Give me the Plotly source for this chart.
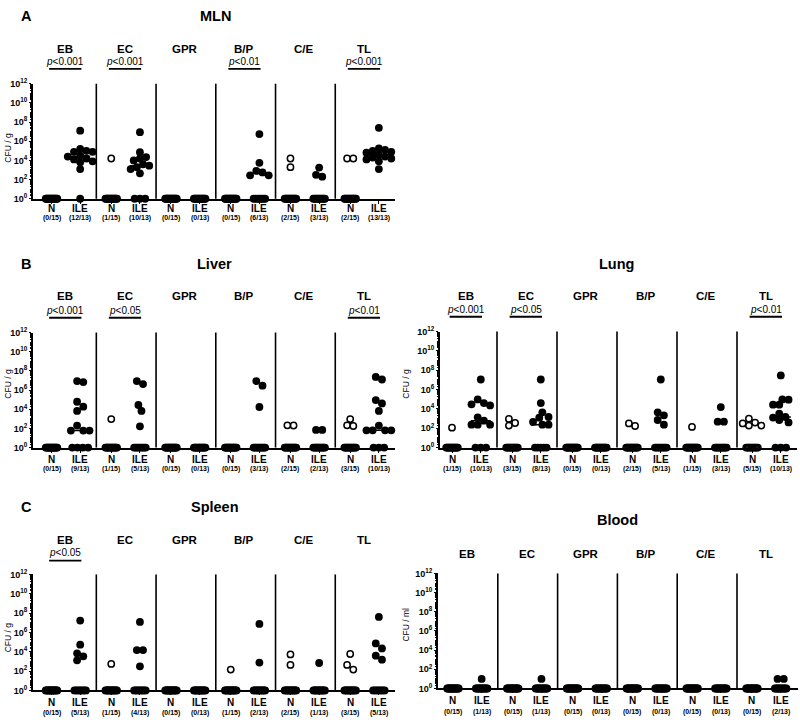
import numpy as np
import plotly.graph_objects as go

W, H = 800, 723
FONT = "Liberation Sans, Arial, sans-serif"

GROUPS = ["EB", "EC", "GPR", "B/P", "C/E", "TL"]
N_TOTAL = 15
ILE_TOTAL = 13

# log10(CFU) of the culture-positive animals per group (remaining animals are 0 -> drawn at 10^0)
MLN_N_LOG = [[], [4.2], [], [], [4.2, 3.3], [4.2, 4.2]]
MLN_ILE_LOG = [
    [7.1, 5.2, 5.0, 4.9, 4.9, 4.5, 4.4, 4.2, 4.1, 3.9, 3.8, 3.1],
    [6.95, 4.85, 4.35, 4.2, 4.0, 3.6, 3.45, 3.3, 3.1, 2.65],
    [],
    [6.75, 3.75, 2.9, 2.75, 2.45, 2.45],
    [3.25, 2.5, 2.3],
    [7.4, 5.25, 5.1, 5.0, 4.9, 4.8, 4.6, 4.4, 4.3, 4.2, 4.1, 3.9, 3.1],
]
LIVER_N_LOG = [[], [2.97], [], [], [2.32, 2.3], [2.97, 2.32, 2.25]]
LIVER_ILE_LOG = [
    [6.93, 6.83, 4.78, 4.27, 3.82, 2.29, 1.77, 1.77, 1.77],
    [6.93, 6.62, 4.44, 3.82, 2.22],
    [],
    [6.93, 6.45, 4.23],
    [1.84, 1.84],
    [7.37, 7.1, 4.95, 4.6, 3.82, 2.29, 1.8, 1.8, 1.8, 1.8],
]
LUNG_N_LOG = [[2.06], [2.96, 2.54, 2.27], [], [2.5, 2.23], [2.13], [2.99, 2.58, 2.5, 2.27, 2.27]]
LUNG_ILE_LOG = [
    [7.04, 4.98, 4.6, 4.47, 4.36, 3.13, 2.78, 2.37, 2.37, 2.37],
    [7.04, 4.6, 3.64, 3.16, 3.09, 2.65, 2.37, 2.37],
    [],
    [7.04, 3.64, 3.33, 2.85, 2.37],
    [4.19, 2.68, 2.68],
    [7.46, 4.98, 4.95, 4.43, 4.43, 3.5, 3.16, 3.1, 2.85, 2.6],
]
SPLEEN_N_LOG = [[], [2.74], [], [2.16], [3.73, 2.64], [3.77, 2.64, 2.16]]
SPLEEN_ILE_LOG = [
    [7.23, 4.73, 3.84, 3.53, 3.12],
    [7.09, 4.18, 4.18, 2.5],
    [],
    [6.88, 2.88],
    [2.84],
    [7.6, 4.86, 4.35, 3.6, 3.18],
]
BLOOD_N_LOG = [[], [], [], [], [], []]
BLOOD_ILE_LOG = [[1.0], [1.0], [], [], [], [1.0, 1.0]]

MLN_P = ["0.001", "0.001", None, "0.01", None, "0.001"]
LIVER_P = ["0.001", "0.05", None, None, None, "0.01"]
LUNG_P = ["0.001", "0.05", None, None, None, "0.01"]
SPLEEN_P = ["0.05", None, None, None, None, None]
BLOOD_P = [None] * 6

Y_TICK_EXP = [0, 2, 4, 6, 8, 10, 12]

PANELS = [
    dict(title="MLN", letter="A", n=MLN_N_LOG, ile=MLN_ILE_LOG, p=MLN_P, unit="CFU / g",
         x0=33, x1=395, ytop=78, ybot=195, xr=[-0.06, 6.0], title_xy=(215, 9), letter_xy=(26, 9),
         grp_y=43, p_y=55, bar_y=63, lab_y=205, cnt_y=215, ytitle_xy=(8, 143)),
    dict(title="Liver", letter="B", n=LIVER_N_LOG, ile=LIVER_ILE_LOG, p=LIVER_P, unit="CFU / g",
         x0=33, x1=395, ytop=331, ybot=448, xr=[-0.06, 6.0], title_xy=(214, 261), letter_xy=(26, 261),
         grp_y=294, p_y=309, bar_y=316, lab_y=460, cnt_y=470, ytitle_xy=(8, 383)),
    dict(title="Lung", letter=None, n=LUNG_N_LOG, ile=LUNG_ILE_LOG, p=LUNG_P, unit="CFU / g",
         x0=440, x1=797, ytop=330, ybot=448, xr=[0.05, 6.0], title_xy=(616, 261), letter_xy=None,
         grp_y=294, p_y=308, bar_y=315, lab_y=460, cnt_y=470, ytitle_xy=(406, 383)),
    dict(title="Spleen", letter="C", n=SPLEEN_N_LOG, ile=SPLEEN_ILE_LOG, p=SPLEEN_P, unit="CFU / g",
         x0=33, x1=395, ytop=577, ybot=695, xr=[-0.06, 6.0], title_xy=(215, 508), letter_xy=(26, 508),
         grp_y=542, p_y=555, bar_y=563, lab_y=707, cnt_y=718, ytitle_xy=(8, 641)),
    dict(title="Blood", letter=None, n=BLOOD_N_LOG, ile=BLOOD_ILE_LOG, p=BLOOD_P, unit="CFU / ml",
         x0=438, x1=798, ytop=576, ybot=693, xr=[0.0, 6.02], title_xy=(617, 522), letter_xy=None,
         grp_y=556, p_y=None, bar_y=None, lab_y=705, cnt_y=717, ytitle_xy=(406, 628)),
]

N_OFF, ILE_OFF = 0.25, 0.73


def yp(py):
    return 1 - py / H


def swarm(logvals, total, ppd, D=6.2, step=3.1):
    """Beeswarm horizontal offsets (pixels) for positive values, plus zero-row offsets."""
    vals = sorted(logvals, reverse=True)
    placed = []
    for v in vals:
        y = v * ppd
        cands = [0.0]
        for k in range(1, 8):
            cands += [k * step, -k * step]
        chosen = cands[-1]
        for c in cands:
            if all((c - px) ** 2 + (y - py) ** 2 >= D * D for px, py in placed):
                chosen = c
                break
        placed.append([chosen, y])
    order = sorted(range(len(placed)), key=lambda i: placed[i][1])
    clusters, cur = [], []
    for i in order:
        if cur and placed[i][1] - placed[cur[-1]][1] >= D:
            clusters.append(cur)
            cur = []
        cur.append(i)
    if cur:
        clusters.append(cur)
    for cl in clusters:
        xs = [placed[i][0] for i in cl]
        m = (max(xs) + min(xs)) / 2
        for i in cl:
            placed[i][0] -= m
    n0 = total - len(vals)
    if n0 <= 0:
        zx = []
    elif n0 == 1:
        zx = [0.0]
    elif n0 <= 4:
        span = (n0 - 1) * 5.3
        zx = list(np.linspace(-span / 2, span / 2, n0))
    else:
        zx = list(np.linspace(-5.8, 5.8, n0))
    return vals, [p[0] for p in placed], zx


fig = go.Figure()
layout = dict(width=W, height=H, margin=dict(l=0, r=0, t=0, b=0),
              paper_bgcolor="white", plot_bgcolor="white", showlegend=False,
              font=dict(family=FONT, color="black"))
annotations, shapes = [], []

minor_vals = [m * 10 ** k for k in range(0, 12) for m in range(1, 10)
              if not (m == 1 and k in Y_TICK_EXP)]

for i, P in enumerate(PANELS, start=1):
    xa = "x" if i == 1 else f"x{i}"
    ya = "y" if i == 1 else f"y{i}"
    xkey = "xaxis" if i == 1 else f"xaxis{i}"
    ykey = "yaxis" if i == 1 else f"yaxis{i}"
    ppx = (P["x1"] - P["x0"]) / (P["xr"][1] - P["xr"][0])
    ppd = (P["ybot"] - P["ytop"]) / 12.0

    tickpos = []
    for cond, data, total, off in (("N", P["n"], N_TOTAL, N_OFF), ("ILE", P["ile"], ILE_TOTAL, ILE_OFF)):
        xs, ys = [], []
        mx, my = [], []
        for g, vals in enumerate(data):
            center = g + off
            tickpos.append(center)
            v_sorted, dxs, zxs = swarm(vals, total, ppd)
            for v, dx in zip(v_sorted, dxs):
                xs.append(center + dx / ppx)
                ys.append(10 ** v)
            for dx in zxs:
                xs.append(center + dx / ppx)
                ys.append(1.0)
            full = list(vals) + [0.0] * (total - len(vals))
            med = float(np.median(full))
            if med > 0:
                mx += [center - 10 / ppx, center + 10 / ppx, None]
                my += [10 ** med, 10 ** med, None]
            annotations.append(dict(x=center, y=yp(P["lab_y"]), xref=xa, yref="paper",
                                    text=f"<b>{cond}</b>", showarrow=False,
                                    font=dict(size=10, family=FONT), xanchor="center", yanchor="middle"))
            annotations.append(dict(x=center, y=yp(P["cnt_y"]), xref=xa, yref="paper",
                                    text=f"<b>({len(vals)}/{total})</b>", showarrow=False,
                                    font=dict(size=7, family=FONT), xanchor="center", yanchor="middle"))
        if cond == "N":
            marker = dict(symbol="circle-open", size=6.3, color="black", line=dict(width=1.5, color="black"))
        else:
            marker = dict(symbol="circle", size=7.8, color="black", line=dict(width=0))
        fig.add_trace(go.Scatter(x=xs, y=ys, xaxis=xa, yaxis=ya, mode="markers", marker=marker,
                                 cliponaxis=False, hoverinfo="skip"))
        if mx:
            fig.add_trace(go.Scatter(x=mx, y=my, xaxis=xa, yaxis=ya, mode="lines",
                                     line=dict(color="black", width=1.5), cliponaxis=False,
                                     hoverinfo="skip"))

    layout[xkey] = dict(domain=[P["x0"] / W, P["x1"] / W], range=P["xr"], anchor=ya,
                        showline=True, linewidth=2, linecolor="black", ticks="outside",
                        ticklen=3, tickwidth=1.2, tickcolor="black", tickmode="array",
                        tickvals=sorted(tickpos), showticklabels=False, showgrid=False,
                        zeroline=False, fixedrange=True)
    layout[ykey] = dict(domain=[yp(P["ybot"]), yp(P["ytop"])], type="log", range=[0, 12],
                        anchor=xa, showline=True, linewidth=1.8, linecolor="black",
                        ticks="outside", ticklen=2, tickwidth=1, tickcolor="black",
                        tickmode="array", tickvals=[10 ** e for e in Y_TICK_EXP],
                        ticktext=[f"<b>10<sup>{e}</sup></b>" for e in Y_TICK_EXP],
                        tickfont=dict(size=9, family=FONT), showgrid=False, zeroline=False,
                        minor=dict(tickmode="array", tickvals=minor_vals, ticks="outside",
                                   ticklen=1.5, tickwidth=0.8, tickcolor="black"),
                        fixedrange=True)

    for g in range(1, len(GROUPS)):
        shapes.append(dict(type="line", xref=xa, yref=f"{ya} domain", x0=g, x1=g, y0=0, y1=1,
                           line=dict(color="black", width=1.6), layer="above"))
    for g, name in enumerate(GROUPS):
        annotations.append(dict(x=g + 0.48, y=yp(P["grp_y"]), xref=xa, yref="paper",
                                text=f"<b>{name}</b>", showarrow=False,
                                font=dict(size=11.5, family=FONT), xanchor="center", yanchor="middle"))
        pv = P["p"][g]
        if pv:
            annotations.append(dict(x=g + 0.48, y=yp(P["p_y"]), xref=xa, yref="paper",
                                    text=f"<i>p</i>&lt;{pv}", showarrow=False,
                                    font=dict(size=10, family=FONT), xanchor="center", yanchor="middle"))
            shapes.append(dict(type="line", xref=xa, yref="paper", x0=g + 0.21, x1=g + 0.75,
                               y0=yp(P["bar_y"]), y1=yp(P["bar_y"]),
                               line=dict(color="black", width=1.8)))
    annotations.append(dict(x=P["title_xy"][0] / W, y=yp(P["title_xy"][1]), xref="paper", yref="paper",
                            text=f"<b>{P['title']}</b>", showarrow=False,
                            font=dict(size=14.5, family=FONT), xanchor="center", yanchor="middle"))
    if P["letter"]:
        annotations.append(dict(x=P["letter_xy"][0] / W, y=yp(P["letter_xy"][1]), xref="paper",
                                yref="paper", text=f"<b>{P['letter']}</b>", showarrow=False,
                                font=dict(size=14.5, family=FONT), xanchor="center", yanchor="middle"))
    annotations.append(dict(x=P["ytitle_xy"][0] / W, y=yp(P["ytitle_xy"][1]), xref="paper", yref="paper",
                            text=P["unit"], showarrow=False, textangle=-90,
                            font=dict(size=8.5, family=FONT), xanchor="center", yanchor="middle"))

layout["annotations"] = annotations
layout["shapes"] = shapes
fig.update_layout(**layout)
fig.write_html("out.html", config={"displayModeBar": False},
               post_script="document.body.style.margin='0px';document.body.style.padding='0px';")
